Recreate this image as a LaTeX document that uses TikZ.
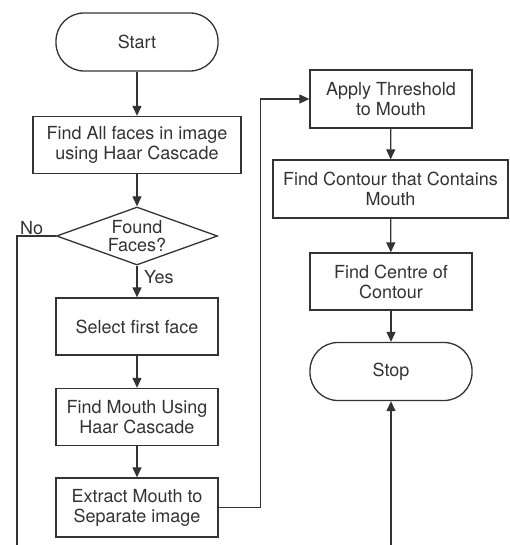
\documentclass[tikz,border=0pt]{standalone}
\usepackage{fontspec}
\setmainfont{TeX Gyre Heros}
\usetikzlibrary{arrows.meta,shapes.geometric}
\definecolor{ink}{HTML}{333333}
\begin{document}
\begin{tikzpicture}[x=1pt,y=-1pt,
  every node/.style={text=ink,font=\fontsize{18}{20}\selectfont},
  proc/.style={draw=ink,line width=1.3pt,rectangle,minimum height=57pt,align=center,inner sep=2pt},
  term/.style={draw=ink,line width=1.3pt,rectangle,rounded corners=28pt,minimum width=162pt,minimum height=58pt},
  dec/.style={draw=ink,line width=1.3pt,diamond,aspect=2.78,minimum width=161pt,minimum height=58pt,inner sep=0pt},
  conn/.style={draw=ink,line width=1.2pt},
  arr/.style={conn,-{Triangle[length=10pt,width=9pt]}},
  lbl/.style={inner sep=1pt}
]
\useasboundingbox (0,0) rectangle (509,545);

\node[term] (start) at (137,42) {Start};
\node[proc,minimum width=208pt] (find) at (137,145) {Find All faces in image\\using Haar Cascade};
\node[dec] (found) at (137,236) {\smash{\raisebox{-7pt}{\begin{tabular}{@{}c@{}}Found\\[-2pt]Faces?\end{tabular}}}};
\node[proc,minimum width=162pt] (select) at (137,326.5) {Select first face};
\node[proc,minimum width=162pt] (mouth) at (137,417) {Find Mouth Using\\Haar Cascade};
\node[proc,minimum width=162pt,minimum height=59pt] (extract) at (137,507.5) {Extract Mouth to\\Separate image};

\node[proc,minimum width=162pt,minimum height=58pt] (apply) at (391,99) {Apply Threshold\\to Mouth};
\node[proc,minimum width=235pt,minimum height=58pt] (contour) at (390.5,189) {Find Contour that Contains\\Mouth};
\node[proc,minimum width=162pt,minimum height=57pt] (centre) at (391,281.5) {Find Centre of\\Contour};
\node[term] (stop) at (391,371.5) {Stop};

\coordinate (noturn) at (17,236);
\coordinate (noend) at (17,545);
\coordinate (stopin) at (391,545);

\draw[arr] (start) -- (find);
\draw[arr] (find) -- (found);
\draw[arr] (found.south) -- (select.north);
\node[lbl,anchor=west] (yes) at (143,277) {Yes};
\draw[conn] (found.west) -- (noturn) -- (noend);
\node[lbl,anchor=south west] (no) at (19,236) {No};
\draw[arr] (select) -- (mouth);
\draw[arr] (mouth) -- (extract);
\draw[arr] (extract.east) -- ++(42,0) |- (apply.west);
\draw[arr] (apply) -- (contour);
\draw[arr] (contour) -- (centre);
\draw[arr] (centre) -- (stop);
\draw[arr] (stopin) -- (stop.south);
\end{tikzpicture}
\end{document}
